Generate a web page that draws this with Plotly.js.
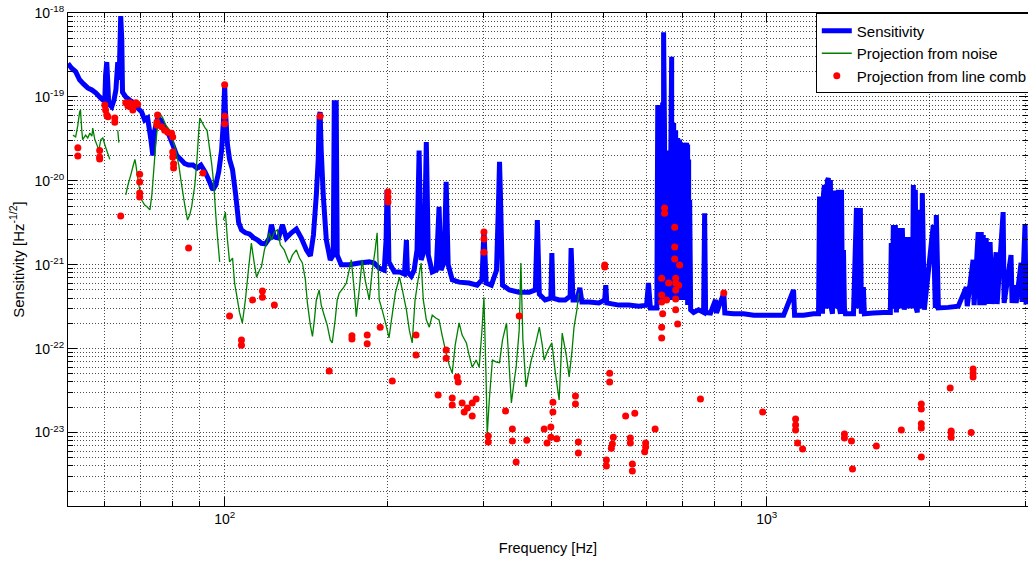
<!DOCTYPE html>
<html><head><meta charset="utf-8">
<script src="https://cdn.plot.ly/plotly-3.0.1.min.js"></script>
<style>html,body{margin:0;padding:0;overflow:hidden;background:#fff;width:1028px;height:561px}#chart{width:1045px;height:561px}</style>
</head><body><div id="chart"></div><script>
// Sensitivity (blue)
const sensFreq = [51.4,52.2,53.1,54.0,54.9,55.9,56.9,57.9,58.8,59.6,60.1,60.3,60.6,60.9,61.1,61.9,62.5,63.0,63.5,63.8,64.0,64.3,64.6,64.8,65.7,66.8,68.0,69.1,70.3,71.2,72.1,73.1,73.7,74.3,75.2,76.2,77.5,78.8,80.2,81.6,83.0,84.4,85.8,87.4,88.9,90.4,92.0,93.5,95.1,96.3,97.5,98.7,99.5,100.0,100.3,101.2,102.1,103.4,104.8,106.1,107.4,109.2,111.1,113.0,115.0,116.9,118.9,120.9,122.0,123.5,125.7,127.8,129.9,132.8,135.6,138.5,141.5,143.9,145.8,147.6,148.8,149.4,150.0,150.7,152.0,154.0,156.6,158.6,159.3,160.6,161.3,164.1,169.7,177.1,184.8,188.7,192.8,196.9,198.5,199.3,200.1,200.9,205.6,210.1,214.6,216.4,217.3,220.9,223.6,226.4,228.4,230.4,233.5,235.5,237.5,241.5,245.6,248.6,250.7,254.0,256.2,258.4,262.9,270.7,282.4,292.2,298.3,300.8,303.6,310.4,317.3,320.1,321.4,322.8,325.5,335.2,348.9,364.6,374.2,377.4,380.6,390.1,399.7,401.4,403.2,414.0,424.8,433.8,435.6,439.2,446.4,452.0,456.0,470.0,490.2,502.4,504.7,506.9,533.6,556.3,580.7,600.2,605.0,610.0,622.4,627.0,
629.4,632.0,632.0,634.7,634.7,637.3,637.3,640.0,640.0,642.6,642.6,645.2,645.2,647.9,647.9,650.6,650.6,653.4,653.4,656.3,656.3,659.1,659.1,662.0,662.0,664.9,667.7,667.7,670.6,670.6,673.4,673.4,676.3,676.3,679.1,679.1,682.0,682.0,684.9,684.9,687.7,687.7,690.6,690.6,693.4,693.4,696.3,696.3,699.1,699.1,702.2,702.2,705.2,705.2,708.3,708.3,711.4,711.4,714.5,714.5,717.6,717.6,720.7,723.8,
733.0,748.5,764.7,768.0,771.2,787.6,804.3,807.9,833.2,836.8,869.3,906.0,946.4,986.7,1029.8,1074.2,1120.5,1125.4,1169.3,1219.6,1246.0,1251.3,1256.6,1261.9,1267.2,1272.5,1277.8,1283.1,1288.4,1293.6,1298.9,1304.6,1310.3,1316.0,1321.8,1327.6,1333.3,1339.1,1344.8,1350.6,1356.3,1362.0,1367.8,1373.6,1379.3,1385.1,1390.8,1396.6,1445.4,1463.8,1470.0,1476.1,1482.2,1488.3,1494.5,1507.2,1513.8,1573.0,1641.3,1690.2,1697.2,1704.5,1711.9,1719.3,1726.7,1734.1,1763.7,1771.1,1778.5,1793.3,1808.7,1820.5,1832.3,1840.1,1848.0,1855.9,1863.8,1871.6,1879.5,1887.4,1895.3,1903.3,1911.5,1919.7,1927.9,1936.1,1952.5,2028.4,2046.2,2055.1,2072.9,2161.8,2255.6,2333.7,2343.4,2402.1,2412.7,2455.0,2470.9,2486.8,2497.4,2508.0,2518.5,2539.7,2560.8,2582.0,2603.4,2649.1,2660.6,2729.1,2740.6,2822.2,2834.6,2871.6,2884.0,2945.7,2958.0,2995.1,3007.4,3100];
const sensVal = [2.5e-19,2.2e-19,2.0e-19,1.6e-19,1.43e-19,1.28e-19,1.21e-19,1.11e-19,1.0e-19,9.2e-20,8.9e-20,1.82e-19,2.6e-19,1.39e-19,8.2e-20,7.6e-20,9.2e-20,1.21e-19,2.6e-19,1.6e-19,2.75e-19,9.2e-19,4.8e-19,1.14e-19,1.0e-19,9.2e-20,8.5e-20,7.4e-20,6.6e-20,5.3e-20,5.6e-20,3.1e-20,2.0e-20,4.0e-20,5.6e-20,5.3e-20,4.3e-20,3.6e-20,2.7e-20,2.0e-20,1.8e-20,1.6e-20,1.54e-20,1.54e-20,1.42e-20,1.54e-20,1.28e-20,1.02e-20,7.8e-21,8.9e-21,1.28e-20,2.3e-20,5.3e-20,1.4e-19,7.0e-20,2.7e-20,1.8e-20,1.35e-20,6.8e-21,3.2e-21,2.6e-21,2.4e-21,2.33e-21,2.1e-21,1.97e-21,1.8e-21,1.77e-21,2.08e-21,3.0e-21,2.14e-21,2.08e-21,3.0e-21,2.08e-21,2.4e-21,2.66e-21,2.08e-21,1.5e-21,1.27e-21,2.26e-21,6.8e-21,1.8e-20,5.9e-20,6.6e-20,2.3e-20,6.8e-21,1.97e-21,1.14e-21,1.3e-21,8.5e-20,8.5e-20,1.3e-21,1.0e-21,1.0e-21,1.05e-21,1.08e-21,1.05e-21,9.1e-22,8.6e-22,1.97e-21,7.8e-21,5.9e-21,1.08e-21,8.2e-22,8.2e-22,7.75e-22,1.97e-21,8.2e-22,7.3e-22,8.6e-22,1.5e-21,2.3e-20,1.14e-21,1.5e-21,2.9e-20,1.3e-21,8.2e-22,8.6e-22,4.9e-21,8.6e-22,1.08e-21,9.7e-21,1.0e-21,6.6e-22,6.2e-22,6.05e-22,5.7e-22,6.6e-22,2.6e-21,6.05e-22,5.7e-22,8.6e-22,5.9e-21,1.68e-20,5.9e-21,5.7e-22,5.0e-22,4.7e-22,4.7e-22,5.0e-22,3.4e-21,4.45e-22,3.8e-22,4.0e-22,1.38e-21,4.0e-22,3.8e-22,3.8e-22,4.2e-22,1.58e-21,3.8e-22,3.8e-22,5.3e-22,3.6e-22,3.6e-22,3.5e-22,3.8e-22,5.7e-22,3.5e-22,3.3e-22,3.3e-22,3.2e-22,3.3e-22,6.05e-22,3.05e-22,3.05e-22,3.05e-22,
8.0e-20,3.8e-22,8.0e-20,3.8e-22,8.0e-20,3.8e-22,8.0e-20,3.8e-22,8.0e-20,3.8e-22,8.0e-20,8.0e-20,5.9e-19,3.1e-20,3.8e-22,2.3e-20,3.8e-22,1.8e-20,3.8e-22,2.3e-20,3.8e-22,1.35e-20,3.8e-22,1.54e-20,3.8e-22,1.35e-20,3.0e-19,3.8e-22,2.7e-20,3.8e-22,4.9e-20,3.8e-22,3.5e-20,3.8e-22,4.0e-20,3.8e-22,2.7e-20,3.8e-22,3.24e-20,3.8e-22,1.02e-20,3.8e-22,3.1e-20,3.8e-22,1.8e-20,3.8e-22,2.7e-20,3.8e-22,2.85e-20,3.8e-22,5.9e-21,3.8e-22,2.85e-20,3.8e-22,2.7e-20,3.8e-22,2.85e-20,3.8e-22,2.7e-20,3.3e-22,1.8e-20,3.3e-22,5.9e-21,2.9e-22,
2.7e-22,2.9e-22,2.7e-22,4.1e-21,2.7e-22,2.66e-22,3.8e-22,2.66e-22,4.6e-22,2.66e-22,2.6e-22,2.6e-22,2.5e-22,2.5e-22,2.5e-22,2.5e-22,5.0e-22,2.5e-22,2.5e-22,2.6e-22,2.6e-22,6.5e-21,3.0e-22,6.5e-21,2.6e-22,7.0e-21,8.9e-21,3.0e-22,3.8e-22,1.0e-20,1.08e-20,3.0e-22,1.02e-20,3.0e-22,2.6e-22,7.15e-21,3.0e-22,7.15e-21,7.15e-21,3.0e-22,7.8e-21,3.0e-22,2.6e-22,7.8e-21,3.0e-22,1.5e-21,3.0e-22,2.6e-22,2.6e-22,4.75e-21,3.0e-22,4.75e-21,3.0e-22,4.75e-21,2.6e-22,5.4e-22,2.6e-22,2.66e-22,2.7e-22,2.7e-22,1.81e-21,3.0e-22,2.97e-21,3.0e-22,2.97e-21,2.7e-22,2.74e-21,3.0e-22,2.74e-21,2.9e-22,2.14e-21,3.0e-22,2.14e-21,3.0e-22,1.97e-21,3.0e-22,8.9e-21,3.0e-22,7.8e-21,3.0e-22,2.7e-22,1.14e-21,3.0e-22,4.5e-21,3.0e-22,7.15e-21,2.9e-22,2.97e-21,3.05e-22,3.9e-21,3.05e-22,3.1e-22,3.2e-22,5.4e-22,3.2e-22,1.14e-21,3.3e-22,2.45e-21,3.3e-22,2.45e-21,3.3e-22,2.26e-21,3.3e-22,2.08e-21,3.4e-22,1.86e-21,3.4e-22,1.41e-21,3.4e-22,4.24e-21,3.5e-22,1.3e-21,3.5e-22,5.7e-22,3.5e-22,1.05e-21,3.6e-22,2.97e-21,3.6e-22,3.7e-22];

// Projection from noise (green)
const noiseFreq = [52.5,53.1,53.6,54.0,54.2,54.5,54.7,55.4,55.9,56.4,56.9,57.1,57.6,58.1,58.6,59.1,59.6,60.1,60.6,61.4,null,63.5,63.8,null,65.7,66.3,67.1,67.7,68.3,68.6,69.1,69.7,70.3,71.2,71.9,72.8,73.4,74.0,74.6,75.2,75.9,76.9,77.9,79.2,80.2,81.2,82.3,83.3,84.4,85.4,86.2,86.9,88.1,88.9,89.6,90.0,90.8,92.0,92.8,93.9,94.7,95.5,96.3,97.1,97.9,null,99.5,100.3,101.2,102.1,103.4,104.3,105.6,106.5,107.8,109.2,110.6,112.0,113.5,114.5,115.9,116.9,118.4,119.9,120.9,121.9,123.5,125.1,126.7,128.8,130.5,131.6,133.3,135.6,137.4,139.1,140.9,142.1,143.9,145.2,146.4,147.6,149.4,150.7,152.6,154.6,156.6,157.9,159.9,161.3,162.7,165.5,167.7,169.7,171.2,173.4,174.9,177.1,179.3,181.6,184.8,187.2,189.5,191.1,192.8,195.2,198.5,201.0,203.1,206.5,210.1,212.7,216.4,219.1,221.8,224.5,227.4,230.4,232.5,235.5,238.5,241.5,245.6,248.6,251.8,256.2,259.5,262.9,266.2,270.7,274.2,279.2,282.4,286.2,291.0,294.8,298.3,300.8,303.6,305.0,307.7,311.8,317.3,321.4,325.5,331.1,335.2,338.0,342.2,344.9,349.4,351.9,354.9,359.7,364.6,367.8,374.2,380.6,385.4,388.5,394.9,401.4,406.8,414.0,419.4,426.6,432.0,437.4,441.0,446.4,450.0];
const noiseVal = [3.5e-20,3.33e-20,4.6e-20,6.6e-20,7.0e-20,4.0e-20,3.1e-20,3.5e-20,3.24e-20,3.7e-20,3.4e-20,4.26e-20,3.1e-20,2.7e-20,2.3e-20,3.1e-20,3.24e-20,2.7e-20,2.3e-20,1.8e-20,null,4.0e-20,2.85e-20,null,6.8e-21,8.9e-21,1.17e-20,1.46e-20,1.8e-20,1.54e-20,1.1e-20,7.8e-21,5.9e-21,5.15e-21,4.9e-21,4.5e-21,6.8e-21,1.35e-20,2.7e-20,4.6e-20,6.4e-20,5.6e-20,4.6e-20,4.0e-20,3.1e-20,2.3e-20,1.54e-20,8.9e-21,5.15e-21,3.4e-21,3.9e-21,4.9e-21,8.9e-21,1.8e-20,4.0e-20,5.6e-20,5.0e-20,4.26e-20,4.0e-20,2.3e-20,1.54e-20,8.9e-21,3.9e-21,1.97e-21,1.08e-21,null,3.4e-21,4.24e-21,1.97e-21,1.08e-21,1.2e-21,6.05e-22,3.8e-22,2.7e-22,2.02e-22,3.8e-22,8.6e-22,1.81e-21,1.0e-21,7.1e-22,8.6e-22,9.4e-22,1.5e-21,1.97e-21,2.4e-21,1.97e-21,2.45e-21,2.6e-21,1.72e-21,1.5e-21,1.2e-21,1.05e-21,1.3e-21,1.5e-21,1.2e-21,1.05e-21,6.6e-22,3.5e-22,1.9e-22,1.4e-22,2.2e-22,3.8e-22,5.0e-22,3.3e-22,2.5e-22,1.9e-22,1.27e-22,1.17e-22,2.2e-22,3.8e-22,4.6e-22,5.3e-22,6.05e-22,8.6e-22,1.14e-21,5.0e-22,2.4e-22,5.0e-22,1.14e-21,6.6e-22,3.8e-22,8.6e-22,1.5e-21,2.4e-21,3.8e-22,2.9e-22,1.9e-22,1.34e-22,2.2e-22,4.6e-22,7.1e-22,5.0e-22,2.9e-22,1.66e-22,1.17e-22,3.8e-22,6.6e-22,1.05e-21,3.8e-22,2.2e-22,1.8e-22,2.5e-22,2.3e-22,2.2e-22,1.45e-22,8.85e-23,6.4e-23,5.1e-23,1.1e-22,2.02e-22,1.45e-22,1.17e-22,8.4e-23,6.0e-23,7.3e-23,6.0e-23,1.66e-22,4.1e-22,4.22e-23,9.3e-24,2.44e-23,7.3e-23,6.9e-23,6.8e-23,1.27e-22,2.02e-22,5.55e-23,2.25e-23,4.22e-23,6.0e-23,1.66e-22,1.05e-21,1.27e-22,3.5e-23,5.55e-23,7.3e-23,1.1e-22,1.8e-22,1.1e-22,7.3e-23,9.6e-23,1.17e-22,5.55e-23,2.44e-23,1.53e-22,8.4e-23,4.6e-23,9.6e-23,1.8e-22,2.9e-22,4.6e-22];

// Projection from line comb (red dots)
const combFreq = [53.6,53.6,58.8,58.8,58.8,60.1,60.3,60.6,60.9,62.7,62.7,64.3,65.7,66.3,66.8,67.4,68.0,68.6,67.7,69.1,69.7,69.7,69.7,69.7,75.0,75.0,75.2,76.5,77.5,78.5,79.8,80.2,80.2,80.2,80.5,80.5,85.8,91.2,100.0,100.0,100.0,102.1,107.4,107.4,112.6,117.4,117.4,123.5,150.0,155.9,171.7,171.7,183.2,183.2,193.6,200.1,200.1,200.1,203.8,225.4,225.4,247.6,256.2,256.2,262.9,262.9,268.5,269.6,274.2,280.4,276.6,286.2,291.0,286.2,300.8,300.8,300.8,306.4,306.4,329.7,339.4,339.4,344.9,349.4,360.8,388.5,399.7,393.3,399.7,409.8,403.2,403.2,443.7,443.7,449.2,449.2,502.4,502.4,513.1,513.1,549.1,570.9,622.4,521.2,519.0,516.8,506.0,506.0,560.2,560.2,565.0,565.0,597.8,597.8,595.4,640.0,640.0,684.9,647.9,647.9,676.3,676.3,676.3,690.6,640.0,659.1,679.1,679.1,679.1,687.7,640.0,653.4,640.0,679.1,679.1,642.6,754.6,833.2,982.7,1130.2,1130.2,1130.2,1140.0,1164.4,1390.8,1390.8,1433.1,1439.3,1592.8,1771.1,1927.9,1927.9,1927.9,1927.9,1927.9,2179.6,2188.4,2188.4,2188.4,2382.4,2402.1,2402.1,2402.1];
const combVal = [2.47e-20,1.97e-20,2.3e-20,1.92e-20,1.82e-20,8.0e-20,7.0e-20,6.1e-20,5.8e-20,5.6e-20,5.0e-20,3.8e-21,8.5e-20,7.8e-20,8.5e-20,7.6e-20,8.0e-20,8.5e-20,7.0e-20,8.2e-20,1.2e-20,9.7e-21,7.15e-21,6.4e-21,5.0e-20,4.6e-20,6.1e-20,4.4e-20,4.0e-20,3.8e-20,3.7e-20,3.33e-20,2.2e-20,1.92e-20,1.6e-20,1.42e-20,1.58e-21,1.24e-20,1.4e-19,5.9e-20,4.8e-20,2.44e-22,1.27e-22,1.1e-22,3.8e-22,4.86e-22,4.1e-22,3.3e-22,5.9e-20,5.4e-23,1.42e-22,1.3e-22,1.45e-22,1.14e-22,1.8e-22,7.35e-21,6.4e-21,5.6e-21,4.1e-23,1.45e-22,8.4e-23,2.8e-23,9.6e-23,7.7e-23,2.58e-23,2.13e-23,4.6e-23,4.0e-23,2.25e-23,1.96e-23,1.75e-23,2.25e-23,2.5e-23,1.57e-23,2.45e-21,2.03e-21,1.41e-21,9.1e-24,7.7e-24,1.8e-23,1.1e-23,7.9e-24,4.45e-24,2.44e-22,8.1e-24,1.1e-23,1.16e-23,7.5e-24,8.8e-24,8.4e-24,2.3e-23,1.75e-23,2.73e-23,2.19e-23,7.7e-24,5.7e-24,9.4e-22,9.9e-22,5.1e-23,4.0e-23,1.57e-23,1.7e-23,1.1e-23,8.8e-24,7.3e-24,6.5e-24,4.7e-24,4.0e-24,8.6e-24,7.5e-24,4.2e-24,3.47e-24,7.5e-24,6.7e-24,5.9e-24,1.8e-22,1.34e-22,1.97e-22,4.75e-21,4.1e-21,2.8e-21,1.62e-21,1.17e-21,9.9e-22,6.9e-22,6.05e-22,6.9e-22,6.05e-22,5.0e-22,5.7e-22,4.35e-22,3.8e-22,3.6e-22,3.9e-22,2.9e-22,2.6e-22,2.5e-23,4.6e-22,1.75e-23,1.45e-23,1.23e-23,1.07e-23,7.5e-24,6.35e-24,9.6e-24,8.6e-24,7.9e-24,3.67e-24,6.9e-24,1.07e-23,2.19e-23,1.9e-23,1.27e-23,1.13e-23,5.1e-24,3.4e-23,1.04e-23,9.9e-24,8.8e-24,1.0e-23,5.7e-23,5.1e-23,4.6e-23];

// axis ticks
const xTickVals = [100, 1000];
const xTickText = ['10<sup>2</sup>', '10<sup>3</sup>'];
const yTickVals = [1e-23, 1e-22, 1e-21, 1e-20, 1e-19, 1e-18];
const yTickText = ['10<sup>-23</sup>', '10<sup>-22</sup>', '10<sup>-21</sup>', '10<sup>-20</sup>', '10<sup>-19</sup>', '10<sup>-18</sup>'];

function minorVals(kFrom, kTo) {
  const out = [];
  for (let k = kFrom; k <= kTo; k++) for (let m = 2; m <= 9; m++) out.push(m * Math.pow(10, k));
  return out;
}

const gridCol = 'rgba(0,0,0,0.7)';
const gridDash = '1px,2px';
const axisCommon = {
  type: 'log', showline: true, linecolor: '#000', linewidth: 1, mirror: 'ticks',
  ticks: 'inside', ticklen: 9, tickcolor: '#000', tickwidth: 1,
  showgrid: true, gridcolor: gridCol, gridwidth: 1, griddash: gridDash,
  zeroline: false, tickmode: 'array',
  tickfont: {family: 'Liberation Sans, Arial, sans-serif', size: 14, color: '#000'}
};

const traces = [
  {x: sensFreq, y: sensVal, type: 'scatter', mode: 'lines', name: 'Sensitivity',
   line: {color: 'rgb(0,0,255)', width: 5, simplify: false}},
  {x: noiseFreq, y: noiseVal, type: 'scatter', mode: 'lines', name: 'Projection from noise',
   line: {color: 'rgb(0,128,0)', width: 1.3, simplify: false}, connectgaps: false},
  {x: combFreq, y: combVal, type: 'scatter', mode: 'markers', name: 'Projection from line comb',
   marker: {color: 'rgb(255,0,0)', size: 7, symbol: 'circle'}}
];

const layout = {
  width: 1045, height: 561,
  margin: {l: 68, r: 15, t: 13, b: 55},
  paper_bgcolor: '#fff', plot_bgcolor: '#fff',
  font: {family: 'Liberation Sans, Arial, sans-serif', size: 14, color: '#000'},
  showlegend: true,
  legend: {x: 1.005, xanchor: 'right', y: 0.999, yanchor: 'top',
           bgcolor: '#fff', bordercolor: '#000', borderwidth: 1,
           font: {size: 15, color: '#000'}},
  xaxis: Object.assign({}, axisCommon, {
    range: [1.7110, 3.4819], tickvals: xTickVals, ticktext: xTickText,
    minor: {tickmode: 'array', tickvals: minorVals(1, 3), ticks: 'inside', ticklen: 5, tickcolor: '#000',
            showgrid: true, gridcolor: gridCol, gridwidth: 1, griddash: gridDash},
    title: {text: 'Frequency [Hz]', font: {size: 14.5}, standoff: 17}
  }),
  yaxis: Object.assign({}, axisCommon, {
    range: [-23.876, -18], tickvals: yTickVals, ticktext: yTickText,
    minor: {tickmode: 'array', tickvals: minorVals(-24, -19), ticks: 'inside', ticklen: 5, tickcolor: '#000',
            showgrid: true, gridcolor: gridCol, gridwidth: 1, griddash: gridDash},
    title: {text: 'Sensitivity [Hz<sup>-1/2</sup>]', font: {size: 15}, standoff: 6}
  })
};

Plotly.newPlot('chart', traces, layout, {displayModeBar: false, staticPlot: true});
</script></body></html>
